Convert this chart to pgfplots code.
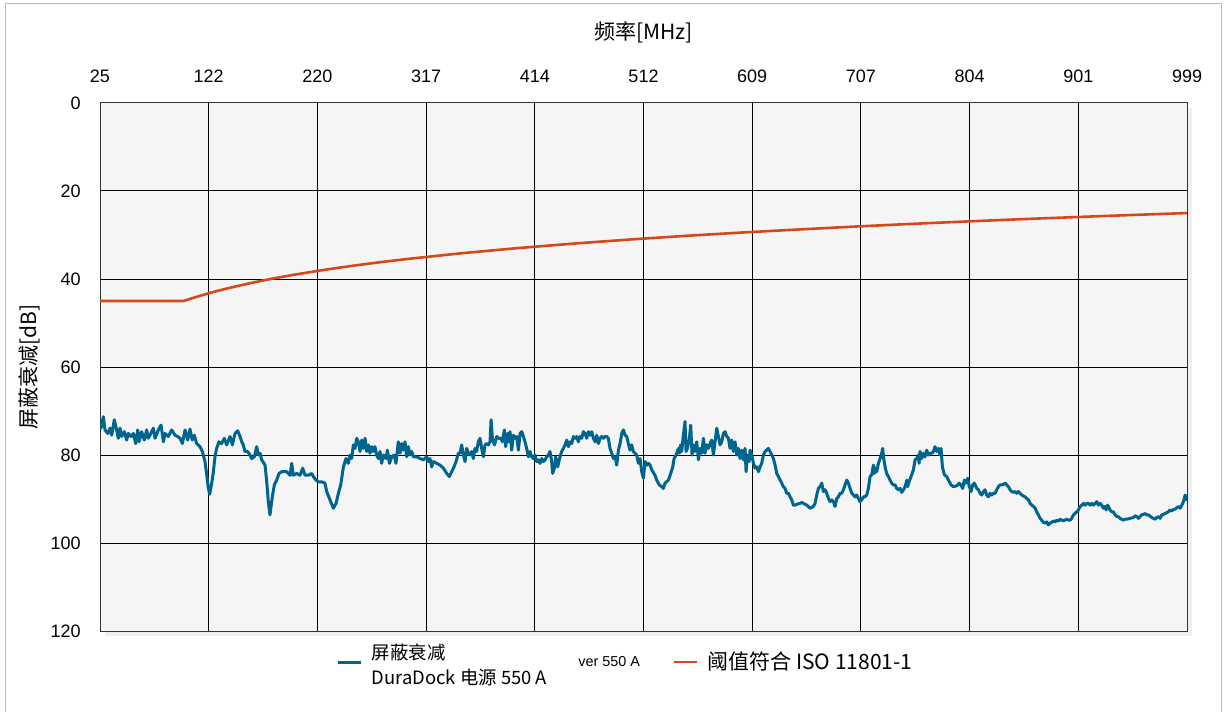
\documentclass[border=0pt]{standalone}
\usepackage{fontspec}
\setmainfont{Liberation Sans}
\newfontfamily\cjk{Noto Sans CJK SC}
\usepackage{pgfplots}
\usepackage{pgfplotstable}
\pgfplotsset{compat=1.18}
\usetikzlibrary{shadows}
\definecolor{blueline}{RGB}{0,101,142}
\definecolor{orangeline}{RGB}{214,72,27}
\definecolor{framegray}{RGB}{185,185,185}
\definecolor{bggray}{RGB}{245,245,245}

\pgfplotstableread{
f db
25.0 73.5
25.9 73.9
28.0 71.3
29.5 74.3
31.9 75.1
34.0 73.9
35.5 75.5
37.8 72.0
39.9 74.3
41.4 76.2
42.9 73.9
44.4 75.8
46.8 74.7
48.9 76.6
50.4 75.1
52.8 75.8
54.9 75.1
57.0 77.4
58.8 74.3
60.0 77.0
62.3 74.7
64.7 76.6
66.8 74.3
68.3 76.2
69.8 75.5
72.8 73.9
74.3 76.2
77.3 74.3
79.7 73.2
81.8 77.0
83.2 75.1
86.2 75.8
89.2 74.3
92.2 75.5
94.6 75.8
96.7 76.2
98.8 77.4
101.2 74.3
103.6 76.6
105.6 74.1
107.7 76.6
109.5 75.5
111.6 77.4
114.6 78.1
116.7 79.2
119.1 81.5
120.6 84.5
122.1 87.6
123.3 88.9
125.1 86.4
126.6 83.8
128.0 80.4
129.5 78.5
131.6 77.0
134.0 77.4
136.4 76.2
138.5 77.7
141.5 75.8
143.6 77.7
146.0 75.1
148.4 74.5
150.5 75.8
152.0 77.0
153.4 77.7
154.9 79.2
157.3 79.2
159.4 80.0
160.9 80.8
163.3 80.4
165.4 78.1
166.9 80.0
168.4 79.6
169.9 81.1
172.9 82.3
174.4 86.1
175.8 90.6
177.3 93.6
179.4 89.5
181.2 86.8
183.3 85.7
185.4 84.2
187.8 83.8
190.8 83.8
192.3 83.8
195.3 84.6
196.8 81.9
198.2 84.6
201.2 84.2
204.2 84.6
206.6 83.0
208.7 84.6
211.7 84.6
214.7 84.2
216.2 84.9
218.6 85.7
220.6 86.1
223.6 86.1
226.6 86.4
228.1 88.3
231.1 90.2
234.1 92.1
236.5 91.0
238.6 88.7
240.7 86.8
243.1 82.7
245.4 80.8
247.5 81.9
249.0 80.0
250.5 80.8
252.0 77.7
253.5 78.5
255.0 76.2
256.5 77.0
258.0 79.2
259.5 76.6
261.0 78.5
262.5 76.2
264.0 79.2
265.5 77.7
266.9 79.6
268.4 78.1
269.9 79.2
271.4 78.1
272.9 80.0
274.4 80.8
275.9 79.2
277.4 81.9
278.9 80.0
281.3 80.8
282.5 78.9
284.3 81.9
286.4 80.4
288.5 80.0
290.2 81.9
292.3 77.0
293.8 79.6
295.3 77.4
296.8 78.9
298.3 77.0
299.8 80.4
301.3 78.1
302.8 80.0
304.3 79.2
305.8 80.4
308.8 80.4
311.8 80.8
314.7 81.1
317.7 80.4
319.2 81.5
320.7 80.8
322.2 82.7
323.7 81.5
326.7 81.9
329.7 82.3
332.7 83.0
335.7 84.2
338.0 84.9
340.1 83.8
342.2 82.7
344.0 81.5
346.1 79.6
347.6 79.6
349.1 77.7
350.6 80.0
352.1 81.5
353.6 78.5
355.1 79.6
356.6 80.0
358.1 79.2
359.5 80.8
361.0 78.5
362.5 79.2
364.0 77.0
365.5 76.2
367.0 78.5
368.5 80.4
370.0 77.7
371.5 77.4
373.0 77.7
374.5 77.0
375.4 72.0
376.6 76.2
378.4 77.7
380.5 75.8
382.0 76.2
384.3 76.2
385.5 77.0
387.3 74.3
388.5 78.1
390.3 75.1
391.5 77.0
392.4 74.7
393.9 78.9
395.4 75.5
396.9 76.2
398.4 75.8
399.9 78.9
401.4 75.1
402.9 74.7
404.4 75.8
405.8 77.0
407.3 78.5
408.8 80.4
410.3 79.2
411.8 80.4
413.3 80.8
414.8 80.0
416.3 81.5
417.8 81.1
419.3 81.9
420.8 80.8
422.3 81.5
423.8 81.1
425.3 80.4
426.8 80.0
428.2 79.2
429.7 81.5
430.6 84.2
432.1 83.0
433.3 80.4
435.1 82.7
437.2 80.4
438.7 79.2
440.2 78.5
441.7 77.7
443.2 76.6
444.7 78.1
446.2 77.0
447.7 77.4
449.2 75.8
450.6 76.2
452.1 75.8
453.6 77.0
455.1 75.8
456.6 76.2
458.1 74.7
459.6 75.1
461.1 76.2
462.6 74.7
464.1 75.5
465.6 74.7
467.1 76.2
468.6 77.0
470.1 75.5
471.6 77.4
473.1 76.2
474.5 75.8
476.0 76.2
477.5 75.8
479.0 75.8
480.5 76.2
482.0 78.5
483.5 79.6
485.0 80.8
486.5 80.4
488.0 82.3
489.5 78.9
491.0 77.4
492.5 75.1
494.0 74.3
495.5 75.5
497.0 75.8
498.4 77.4
499.9 78.9
501.4 77.7
502.9 79.2
504.4 79.6
505.9 80.0
507.4 81.9
508.9 80.8
510.4 83.8
511.9 85.3
513.4 81.5
514.9 82.3
516.4 81.9
517.9 82.3
519.4 83.4
522.3 84.6
523.8 85.7
526.2 86.8
528.3 87.2
529.8 87.6
531.3 86.4
534.3 85.7
536.4 84.2
538.2 82.7
539.4 80.8
541.2 80.0
543.3 78.5
544.1 79.6
545.3 77.7
546.2 79.2
547.7 75.5
549.2 72.4
550.1 79.2
551.3 78.5
553.1 76.2
554.3 73.2
555.5 80.0
556.7 77.7
558.2 79.2
559.7 77.0
561.2 81.1
562.7 78.5
564.2 79.6
565.7 76.2
567.1 79.6
568.6 77.7
570.1 78.5
571.6 77.4
573.1 76.6
574.6 80.0
576.1 77.0
577.6 73.9
579.1 75.8
580.6 77.7
582.1 77.0
583.6 75.1
585.1 74.7
586.6 75.8
588.1 76.2
589.5 78.5
591.0 76.6
592.5 79.2
594.0 77.0
595.5 80.0
597.0 78.5
598.5 80.8
600.0 78.9
601.5 81.1
603.0 78.5
603.9 83.8
605.1 80.0
606.6 81.5
607.5 78.9
609.0 80.0
610.5 81.9
612.0 83.0
613.5 82.7
615.0 83.8
616.4 82.7
617.9 81.9
619.4 80.0
620.9 79.2
622.4 78.9
623.9 78.5
625.4 79.2
626.9 80.0
628.4 80.8
629.9 82.3
631.4 84.2
632.9 84.9
634.4 85.7
635.9 86.4
637.3 87.2
638.8 87.6
640.3 88.7
641.8 88.7
643.3 89.5
644.8 90.2
646.3 91.4
647.8 91.4
649.3 91.2
652.3 91.0
653.8 90.8
655.3 91.0
658.3 91.4
661.2 92.1
664.2 91.7
665.7 91.0
667.2 89.1
668.7 87.6
670.2 87.2
671.7 86.4
673.2 88.3
674.7 87.9
676.2 88.7
677.7 89.9
679.2 90.6
680.7 90.2
682.2 90.6
683.6 91.7
685.1 89.9
686.6 89.5
688.1 88.7
689.6 88.7
691.1 87.9
692.6 86.8
694.1 85.7
695.6 86.4
697.1 87.6
698.6 88.7
700.1 89.1
701.6 89.5
703.0 89.1
704.5 89.9
706.0 90.6
707.5 90.2
709.0 89.5
710.5 89.5
712.0 89.1
713.5 87.6
715.0 84.9
716.5 84.5
718.0 82.3
718.9 84.2
720.1 83.0
721.0 83.8
722.5 81.9
724.0 80.8
725.4 79.6
726.3 78.5
727.2 80.8
728.7 83.0
729.9 84.2
731.4 84.9
732.9 85.7
734.4 86.4
735.9 86.8
737.4 86.8
738.9 87.6
740.4 87.9
741.9 87.6
743.4 88.5
744.9 87.9
746.4 87.2
747.9 85.7
748.7 87.2
749.9 86.1
751.7 84.9
753.8 83.4
755.3 81.1
756.8 80.8
758.3 80.0
758.9 81.9
759.8 79.2
761.3 80.8
762.8 79.6
764.3 80.4
765.8 78.9
767.3 80.0
768.8 79.6
770.3 79.6
771.8 79.2
773.2 78.1
774.7 79.2
776.2 78.5
777.7 80.0
778.6 78.5
779.8 82.7
781.6 84.5
783.7 84.9
785.2 85.7
787.6 86.8
789.7 87.2
792.7 87.0
794.8 86.4
796.5 86.8
798.0 87.6
799.5 85.7
801.0 86.4
802.5 85.3
804.0 87.2
805.5 88.3
807.0 86.8
808.5 86.4
810.6 87.6
812.1 87.9
813.6 88.7
815.1 89.1
816.6 88.3
818.0 87.9
819.5 89.1
821.0 89.5
822.5 88.7
824.0 89.1
825.5 88.7
827.0 88.7
828.5 87.9
830.0 87.2
831.5 86.8
833.0 86.8
834.5 86.7
836.0 86.4
837.5 86.8
839.0 87.2
840.5 87.9
841.9 88.3
843.4 88.5
844.9 88.3
846.4 88.7
847.9 88.3
849.4 88.7
850.9 89.1
853.9 89.5
855.4 89.9
856.9 90.2
858.4 91.0
859.9 91.4
861.4 91.7
862.9 92.1
864.3 92.9
865.8 93.6
867.3 94.4
868.8 94.8
870.3 95.3
871.8 95.5
873.3 95.2
874.8 95.9
876.3 95.5
877.8 95.3
879.3 95.0
880.8 95.2
882.3 94.8
883.8 95.0
885.3 94.6
886.7 94.8
888.2 94.9
889.7 94.8
891.2 94.6
892.7 94.8
894.2 94.8
895.7 94.4
897.2 93.6
898.7 93.3
900.2 92.9
901.7 92.5
903.2 91.7
904.7 91.4
906.2 91.0
907.7 91.4
909.2 91.0
910.6 91.0
912.1 91.4
913.6 91.0
915.1 91.4
916.6 91.0
918.1 90.6
919.6 91.4
921.1 91.0
922.6 91.4
924.1 92.1
925.6 91.7
926.5 92.5
927.7 91.4
928.6 91.7
930.1 92.5
931.6 92.9
933.0 92.9
934.5 93.6
936.0 94.0
937.5 94.0
939.0 94.4
940.5 94.6
942.0 94.8
943.5 94.6
945.0 94.6
948.0 94.4
951.0 94.2
952.5 93.8
954.0 94.0
955.5 94.4
956.9 94.0
958.4 93.6
959.9 93.5
961.4 93.3
962.9 93.6
964.4 93.6
965.9 93.9
967.4 94.2
968.9 94.4
970.4 94.6
971.9 94.2
973.4 94.0
974.9 94.4
976.4 93.6
977.8 93.5
979.3 93.3
980.8 93.1
982.3 92.9
983.8 92.5
985.3 92.7
986.8 92.4
988.3 92.3
989.8 92.0
991.3 91.7
992.8 92.1
994.3 91.4
995.8 90.6
997.3 89.1
998.8 90.2
999.0 90.0
}\shielding

\pgfplotstableread{
f db
25 45
100 45
110 44.17
120 43.42
130 42.72
140 42.08
160 40.92
180 39.89
200 38.98
225 37.96
250 37.04
275 36.21
300 35.46
350 34.12
400 32.96
450 31.94
500 31.02
550 30.19
600 29.44
650 28.76
700 28.10
750 27.50
800 26.94
850 26.41
900 25.92
950 25.45
999 25.01
}\limitcurve

\begin{document}
\begin{tikzpicture}
\useasboundingbox (0,0) rectangle (612pt,355.5pt);
\fill[white] (0,0) rectangle (612pt,355.5pt);
\draw[framegray, line width=0.8pt] (2.75pt,-5pt) -- (2.75pt,353.75pt) -- (610.75pt,353.75pt) -- (610.75pt,-5pt);
\begin{axis}[
  at={(50pt,40pt)}, anchor=south west,
  scale only axis, width=543.5pt, height=264pt,
  xmin=25, xmax=999, ymin=0, ymax=120, y dir=reverse,
  clip mode=individual,
  axis background/.style={fill=bggray, drop shadow={shadow xshift=2.5pt, shadow yshift=-2.5pt, opacity=0.12}},
  axis line style={black!80, line width=0.5pt},
  grid=major, major grid style={black, line width=0.5pt},
  major tick length=0pt,
  xtick={25,122.4,219.8,317.2,414.6,512,609.4,706.8,804.2,901.6,999},
  xticklabels={25,122,220,317,414,512,609,707,804,901,999},
  xticklabel pos=upper,
  ytick={0,20,40,60,80,100,120},
  /pgf/number format/assume math mode=true,
  tick label style={font=\fontsize{9pt}{11pt}\selectfont},
  xticklabel style={anchor=south, inner sep=0pt, yshift=10pt},
  yticklabel style={anchor=east, inner sep=0pt, xshift=-9.5pt},
  xlabel={\cjk 频率[MHz]},
  xlabel style={font=\fontsize{10.5pt}{12pt}\selectfont, at={(axis description cs:0.5,1.1345)}, anchor=center, inner sep=0pt},
  ylabel={\cjk 屏蔽衰减[dB]},
  ylabel style={font=\fontsize{10.5pt}{12pt}\selectfont, at={(axis description cs:-0.0653,0.5)}, anchor=center, inner sep=0pt},
  legend columns=2,
  legend image code/.code={\draw[#1] (0pt,0pt) -- (11.5pt,0pt);},
  legend style={at={(axis description cs:0.218,-0.0587)}, anchor=west, draw=none, fill=none, inner sep=0pt, outer sep=0pt,
    nodes={inner sep=0pt, outer sep=0pt},
    cells={anchor=west},
    /tikz/every odd column/.append style={column sep=4.5pt},
    /tikz/every even column/.append style={column sep=0pt}},
]
\addplot[blueline, line width=1.5pt, line join=round] table[x=f, y=db] {\shielding};
\addlegendentry{\raisebox{3.5pt}{\parbox[c]{150.5pt}{\cjk\fontsize{9.2pt}{12.5pt}\selectfont 屏蔽衰减\\DuraDock 电源 550 A}}}
\addplot[orangeline, line width=1.3pt, line join=round] table[x=f, y=db] {\limitcurve};
\addlegendentry{\cjk\fontsize{10.5pt}{12pt}\selectfont 阈值符合 ISO 11801-1}
\node[anchor=west, inner sep=0pt, font=\fontsize{7.2pt}{9pt}\selectfont] at (axis description cs:0.4397,-0.0587) {ver 550 A};
\end{axis}
\end{tikzpicture}
\end{document}
